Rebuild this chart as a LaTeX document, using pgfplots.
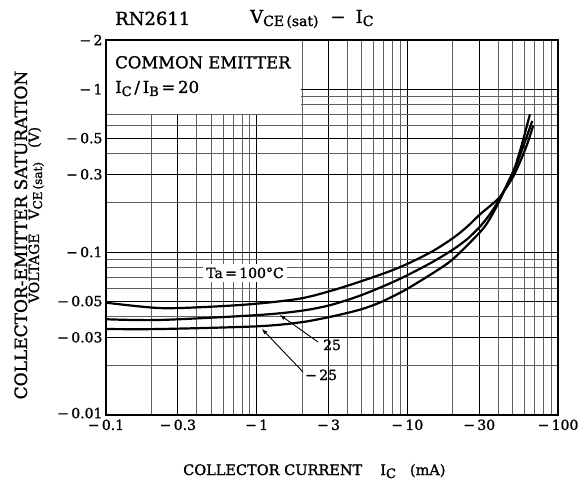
\documentclass[border=0pt]{standalone}
\usepackage{fontspec}
\setmainfont{DejaVu Serif}[UprightFeatures={FakeBold=1.2}]
\usepackage{pgfplots}
\pgfplotsset{compat=1.18}
\newcommand{\fs}[1]{\fontsize{#1}{#1}\selectfont}
\newcommand{\sub}[2][12]{\raisebox{-3pt}{\fs{#1}#2}}

\begin{document}
\begin{tikzpicture}
\begin{axis}[
  at={(0,0)}, anchor=south west,
  scale only axis, width=452pt, height=375pt,
  xmode=log, ymode=log,
  xmin=0.1, xmax=100, ymin=0.01, ymax=2,
  xtick={0.1,0.3,1,3,10,30,100},
  xticklabels={\raisebox{-4pt}{−\,0.1},−\,0.3,−\,1,−\,3,−\,10,−\,30,−\,100},
  ytick={0.01,0.03,0.05,0.1,0.3,0.5,1,2},
  yticklabels={\raisebox{4pt}{−\,0.01},−\,0.03,−\,0.05,−\,0.1,−\,0.3,−\,0.5,−\,1,−\,2},
  minor xtick={0.2,0.4,0.5,0.6,0.7,0.8,0.9,2,4,5,6,7,8,9,20,40,50,60,70,80,90},
  minor ytick={0.02,0.04,0.06,0.07,0.08,0.09,0.2,0.4,0.6,0.7,0.8,0.9},
  grid=both,
  major grid style={black, line width=1pt},
  minor grid style={black!62, line width=1pt},
  major tick length=0pt, minor tick length=0pt,
  axis line style={line width=1.6pt},
  tick label style={font=\fs{14}},
  xticklabel style={yshift=-1pt},
  no markers,
  every axis plot post/.append style={black, line width=2.2pt, smooth, tension=0.5},
]
\fill[white] ([xshift=0.8pt,yshift=0.6pt]axis cs:0.1,0.7) rectangle ([xshift=-0.6pt,yshift=-0.8pt]axis cs:2,2);

% Ta = 100 C
\addplot coordinates {(0.1,0.0489) (0.228,0.0453) (0.5,0.0462) (1.0,0.0482) (1.94,0.0518) (3.07,0.0576) (4.85,0.0658) (7.66,0.0763) (10.4,0.0860) (14.8,0.1015) (20.1,0.1218) (24.9,0.1428) (30.3,0.170) (35,0.190) (40.5,0.214) (45,0.245) (50.9,0.295) (57.6,0.380) (63,0.470) (68.5,0.598)};
% Ta = 25 C
\addplot coordinates {(0.1,0.0387) (0.228,0.0383) (1.0,0.0410) (1.94,0.0435) (3.07,0.0472) (4.85,0.0540) (7.66,0.0642) (10.4,0.0734) (14.8,0.0872) (20.1,0.1036) (25,0.1202) (30.3,0.143) (35,0.1687) (40.5,0.208) (50.9,0.315) (57.6,0.422) (67.5,0.637)};
% Ta = -25 C
\addplot coordinates {(0.1,0.0337) (0.228,0.0337) (1.0,0.0350) (1.94,0.0370) (3.07,0.0400) (4.85,0.0443) (6.58,0.0490) (8.93,0.0562) (10.4,0.0608) (14.8,0.0743) (20.1,0.0906) (30.3,0.1321) (35,0.158) (40.5,0.203) (50.9,0.319) (54.2,0.380) (58,0.468) (65.1,0.70)};
\end{axis}

% annotations (axis box from (0,0) to (452pt,375pt))
\node[anchor=base west, font=\fs{16.5}, inner sep=0pt] at (9pt,346.7pt) {COMMON EMITTER};
\node[anchor=base west, font=\fs{16.5}, inner sep=0pt] at (9pt,322pt) {I\sub[13]{C}\,/\,I\sub[13]{B}\,=\,20};
\node[anchor=base, font=\fs{14}, fill=white, inner sep=3.5pt] at (139pt,137pt) {Ta\,=\,100°C};
\node[anchor=base west, font=\fs{14}, inner sep=0pt] at (217pt,65pt) {25};
\node[anchor=base west, font=\fs{14}, inner sep=0pt] at (199pt,35pt) {−\,25};
\draw[-latex, line width=0.9pt] (212pt,73pt) -- (174pt,100pt);
\draw[-latex, line width=0.9pt] (197pt,43pt) -- (156pt,86pt);

% titles
\node[anchor=base west, font=\fs{18}, inner sep=0pt] at (9pt,390pt) {RN2611};
\node[anchor=base west, font=\fs{18}, inner sep=0pt] at (144pt,392pt) {V\sub[14]{CE\,(sat)}\hspace{12pt}−\hspace{10pt}I\sub[14]{C}};

% axis labels
\node[rotate=90, anchor=base, font=\fs{17}, inner sep=0pt] at (-79pt,180pt) {COLLECTOR-EMITTER SATURATION};
\node[rotate=90, anchor=base, font=\fs{14}, inner sep=0pt] at (-67pt,200pt) {VOLTAGE\hspace{14pt}V\sub[12]{CE\,(sat)}\hspace{14pt}(V)};
\node[anchor=base west, font=\fs{14.5}, inner sep=0pt] at (77pt,-60pt) {COLLECTOR CURRENT\hspace{18pt}I\sub[13]{C}\hspace{14pt}(mA)};

\useasboundingbox (-106pt,-70pt) rectangle (478pt,415pt);
\end{tikzpicture}
\end{document}
